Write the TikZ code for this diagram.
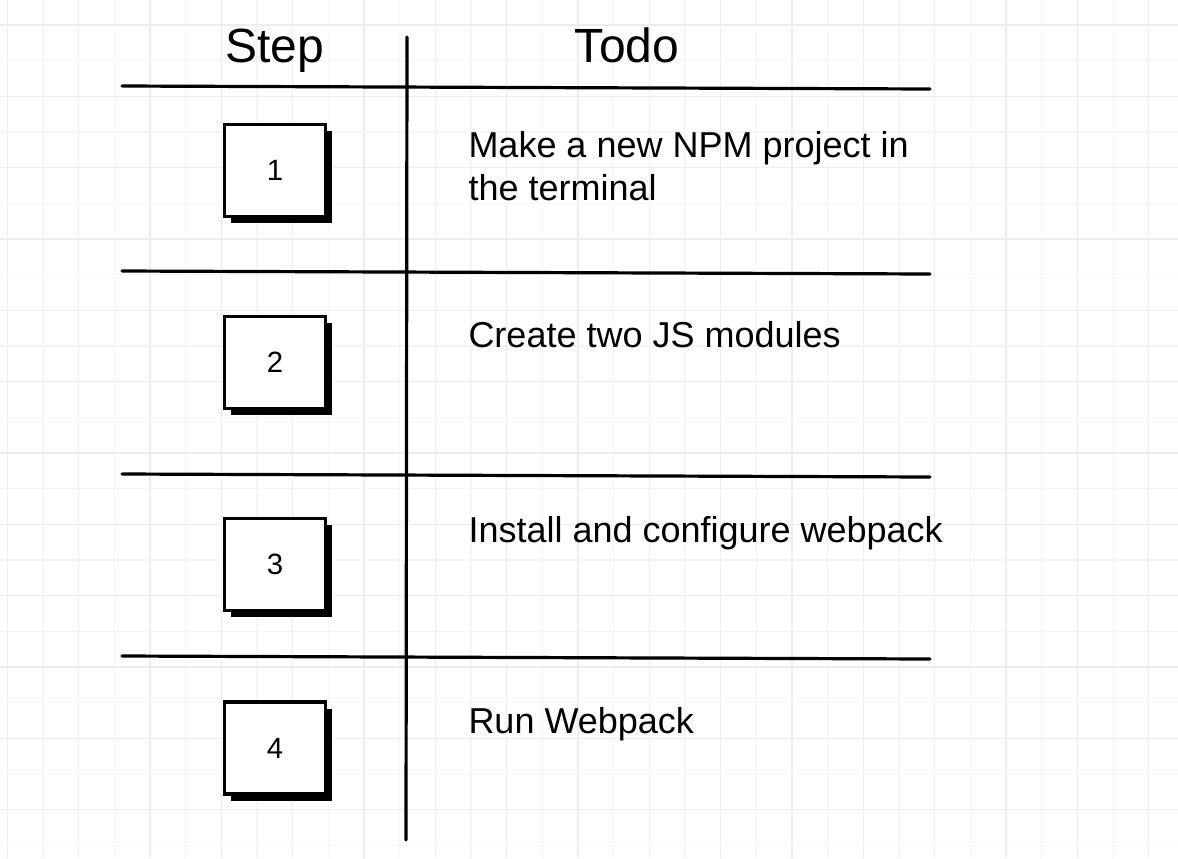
\documentclass[tikz,border=0pt]{standalone}
\usepackage{fontspec}
\setmainfont{Liberation Sans}
\usetikzlibrary{shadows}
\tikzset{every picture/.style={line width=0.75pt}}
\tikzset{
  gridmajor/.style={draw=black!7, line width=1.1pt},
  gridminor/.style={draw=black!4, line width=0.9pt},
  rule/.style={line width=2.4pt, line cap=round},
  stepbox/.style={draw, line width=2.6pt, fill=white, minimum width=76pt, minimum height=69pt, inner sep=0pt,
    font=\fontsize{22}{26}\selectfont,
    drop shadow={shadow xshift=5pt, shadow yshift=-5pt, fill=black, opacity=1}},
  todotext/.style={anchor=base west, inner sep=0pt, align=left, font=\fontsize{27}{32}\selectfont},
  headtext/.style={anchor=base, inner sep=0pt, font=\fontsize{36}{40}\selectfont}
}

\begin{document}
\begin{tikzpicture}[x=0.75pt,y=0.75pt,yscale=-1,xscale=1]
\useasboundingbox (0,0) rectangle (1178,858);
\fill[white] (0,0) rectangle (1178,858);
% background grid
\foreach \m in {0,...,16} {
  \draw[gridminor] ({43+71.34*\m},0) -- ++(0,858);
  \draw[gridmajor] ({7.3+71.34*\m},0) -- ++(0,858);
}
\foreach \m in {0,...,11} {
  \draw[gridminor] (0,{60.7+71.34*\m}) -- ++(1178,0);
  \draw[gridmajor] (0,{25+71.34*\m}) -- ++(1178,0);
}
% table rules
\draw[rule] (122,86) -- (930,89) ;
\draw[rule] (122,271) -- (930,274) ;
\draw[rule] (122,474) -- (930,477) ;
\draw[rule] (122,656) -- (930,659) ;
\draw[rule] (407,37) -- (406,840) ;
% headers
\node[headtext] (step) at (275,62) {Step};
\node[headtext] (todo) at (627,62) {Todo};
% steps
\node[stepbox] (s1) at (275,170.5) {1};
\node[stepbox] (s2) at (275,362.5) {2};
\node[stepbox] (s3) at (275,564.5) {3};
\node[stepbox] (s4) at (275,748) {4};
% todo texts (base = last line)
\node[todotext] (t1) at (468,200) {Make a new NPM project in\\the terminal};
\node[todotext] (t2) at (468,347) {Create two JS modules};
\node[todotext] (t3) at (468,542) {Install and configure webpack};
\node[todotext] (t4) at (468,733) {Run Webpack};
\end{tikzpicture}
\end{document}
